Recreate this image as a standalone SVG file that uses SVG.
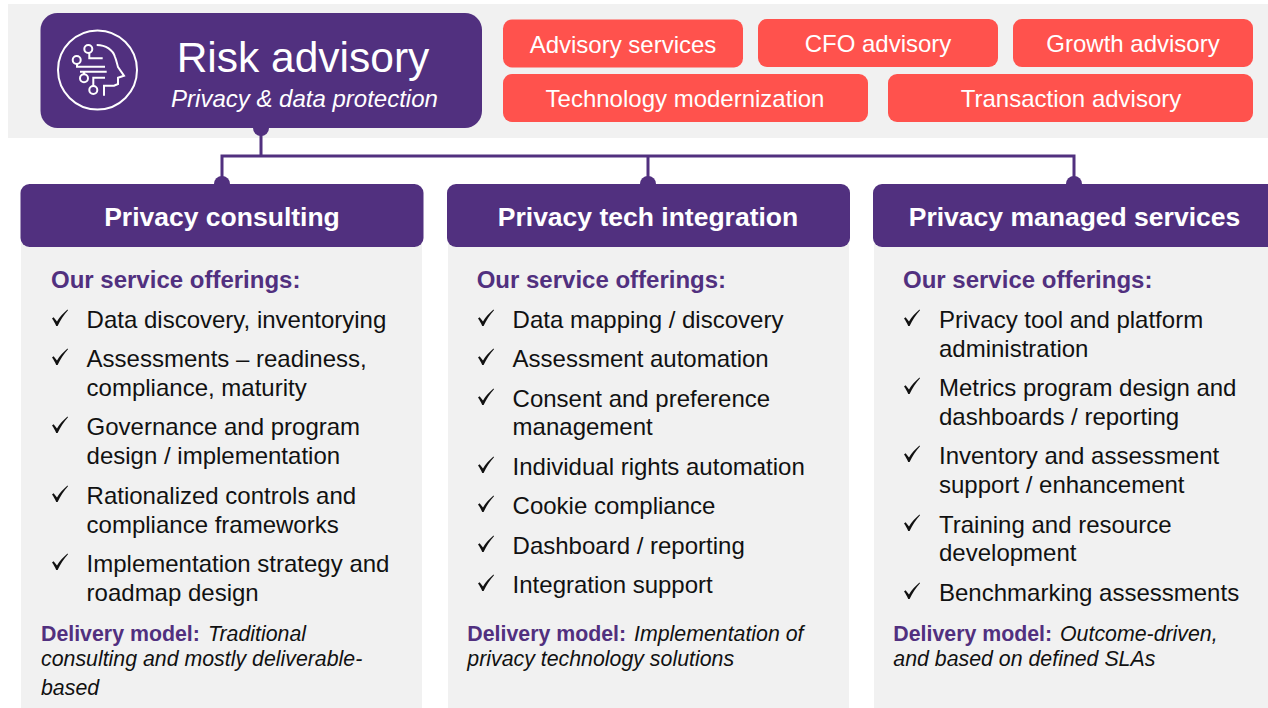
<svg xmlns="http://www.w3.org/2000/svg" width="1268" height="708" viewBox="0 0 1268 708">
<style>
text{font-family:"Liberation Sans",Arial,sans-serif}
.pu{fill:#51307f}
.gr{fill:#f1f1f1}
.red{fill:#ff524d}
.rt{fill:#fff;font-size:24px;text-anchor:middle}
.ht{fill:#fff;font-size:26.500px;font-weight:700;text-anchor:middle}
.so{fill:#51307f;font-size:24px;font-weight:700}
.b{fill:#111;font-size:24px}
.dm{fill:#51307f;font-size:21.330px;font-weight:700}
.di{fill:#111;font-size:21.330px;font-style:italic}
.ic{fill:none;stroke:#fff;stroke-width:2}
.ln{fill:none;stroke:#51307f;stroke-width:3}
</style>
<defs>
<path id="chk" d="M0 6.5 L1.6 5.2 L5 9.5 C7.5 5 11 1.5 15.5 -2.5 L16 -1.8 C11.500 3 8.5 8 5.6 14 L4.2 14 C3 11 1.500 8.500 0 6.5Z" fill="#111"/>
</defs>
<rect x="8" y="4" width="1260" height="134" class="gr"/>
<g id="connectors">
<path class="ln" d="M261 128V156M222 184V156H1074V184M648 156V184"/>
<circle cx="261" cy="128" r="8" class="pu"/>
<circle cx="222" cy="184" r="8" class="pu"/>
<circle cx="648" cy="184" r="8" class="pu"/>
<circle cx="1074" cy="184" r="8" class="pu"/>
</g>
<g id="risk-advisory">
<rect x="40.500" y="13" width="441.500" height="115" rx="17" class="pu"/>
<circle cx="97.500" cy="70" r="39.500" class="ic"/>
<path class="ic" d="M96.700 45C106 45 113 50 115 57C117 62 117 64 118 67L124 75.700L118 77.700V84L114 85.700H104V95.700"/>
<circle cx="88.300" cy="49" r="4" class="ic"/>
<circle cx="76.700" cy="60" r="4" class="ic"/>
<circle cx="84" cy="78.300" r="4" class="ic"/>
<circle cx="93.300" cy="90" r="4" class="ic"/>
<path class="ic" d="M89.300 53V58.300H102.700M77 64V66.700H105M80 71.700H106.700M84 74.300V71.700M93.300 86V77.700H105"/>
<text x="303" y="72" fill="#fff" font-size="42.500" text-anchor="middle">Risk advisory</text>
<text x="304.500" y="107" fill="#fff" font-size="24" font-style="italic" text-anchor="middle">Privacy &amp; data protection</text>
</g>
<g id="advisory-services"><rect x="503" y="19.500" width="240" height="48" rx="9" class="red"/><text x="623" y="53" class="rt">Advisory services</text></g>
<g id="cfo-advisory"><rect x="758" y="19" width="240" height="48" rx="9" class="red"/><text x="878" y="52" class="rt">CFO advisory</text></g>
<g id="growth-advisory"><rect x="1013" y="19" width="240" height="48" rx="9" class="red"/><text x="1133" y="52" class="rt">Growth advisory</text></g>
<g id="technology-modernization"><rect x="503" y="74" width="365" height="48" rx="9" class="red"/><text x="685" y="107" class="rt">Technology modernization</text></g>
<g id="transaction-advisory"><rect x="888" y="74" width="365" height="48" rx="9" class="red"/><text x="1071" y="107" class="rt">Transaction advisory</text></g>

<g id="privacy-consulting">
<rect x="21" y="240" width="401" height="468" class="gr"/>
<rect x="20.500" y="184" width="403" height="63" rx="9" class="pu"/>
<text x="222" y="226" class="ht">Privacy consulting</text>
<text x="51" y="288" class="so">Our service offerings:</text>
<use href="#chk" x="52" y="312"/><text x="86.600" y="328" class="b">Data discovery, inventorying</text>
<use href="#chk" x="52" y="351"/><text x="86.600" y="367" class="b">Assessments – readiness,</text>
<text x="86.600" y="396" class="b">compliance, maturity</text>
<use href="#chk" x="52" y="419"/><text x="86.600" y="435" class="b">Governance and program</text>
<text x="86.600" y="464" class="b">design / implementation</text>
<use href="#chk" x="52" y="488"/><text x="86.600" y="504" class="b">Rationalized controls and</text>
<text x="86.600" y="533" class="b">compliance frameworks</text>
<use href="#chk" x="52" y="556"/><text x="86.600" y="572" class="b">Implementation strategy and</text>
<text x="86.600" y="601" class="b">roadmap design</text>
<text x="41" y="641" class="dm">Delivery model:</text><text x="208" y="641" class="di">Traditional</text>
<text x="41" y="666" class="di">consulting and mostly deliverable-</text>
<text x="41" y="695" class="di">based</text>
</g>

<g id="privacy-tech-integration">
<rect x="448" y="240" width="401" height="468" class="gr"/>
<rect x="447" y="184" width="403" height="63" rx="9" class="pu"/>
<text x="648" y="226" class="ht">Privacy tech integration</text>
<text x="476.700" y="288" class="so">Our service offerings:</text>
<use href="#chk" x="478" y="312"/><text x="512.600" y="328" class="b">Data mapping / discovery</text>
<use href="#chk" x="478" y="351"/><text x="512.600" y="367" class="b">Assessment automation</text>
<use href="#chk" x="478" y="391"/><text x="512.600" y="407" class="b">Consent and preference</text>
<text x="512.600" y="435" class="b">management</text>
<use href="#chk" x="478" y="459"/><text x="512.600" y="475" class="b">Individual rights automation</text>
<use href="#chk" x="478" y="498"/><text x="512.600" y="514" class="b">Cookie compliance</text>
<use href="#chk" x="478" y="538"/><text x="512.600" y="554" class="b">Dashboard / reporting</text>
<use href="#chk" x="478" y="577"/><text x="512.600" y="593" class="b">Integration support</text>
<text x="467.300" y="641" class="dm">Delivery model:</text><text x="634" y="641" class="di">Implementation of</text>
<text x="467.300" y="666" class="di">privacy technology solutions</text>
</g>

<g id="privacy-managed-services">
<rect x="874" y="240" width="394" height="468" class="gr"/>
<rect x="873" y="184" width="404" height="63" rx="9" class="pu"/>
<text x="1074.500" y="226" class="ht">Privacy managed services</text>
<text x="903" y="288" class="so">Our service offerings:</text>
<use href="#chk" x="904" y="312"/><text x="939" y="328" class="b">Privacy tool and platform</text>
<text x="939" y="357" class="b">administration</text>
<use href="#chk" x="904" y="380"/><text x="939" y="396" class="b">Metrics program design and</text>
<text x="939" y="425" class="b">dashboards / reporting</text>
<use href="#chk" x="904" y="448"/><text x="939" y="464" class="b">Inventory and assessment</text>
<text x="939" y="493" class="b">support / enhancement</text>
<use href="#chk" x="904" y="517"/><text x="939" y="533" class="b">Training and resource</text>
<text x="939" y="561" class="b">development</text>
<use href="#chk" x="904" y="585"/><text x="939" y="601" class="b">Benchmarking assessments</text>
<text x="893.300" y="641" class="dm">Delivery model:</text><text x="1060" y="641" class="di">Outcome-driven,</text>
<text x="893.300" y="666" class="di">and based on defined SLAs</text>
</g>
</svg>
